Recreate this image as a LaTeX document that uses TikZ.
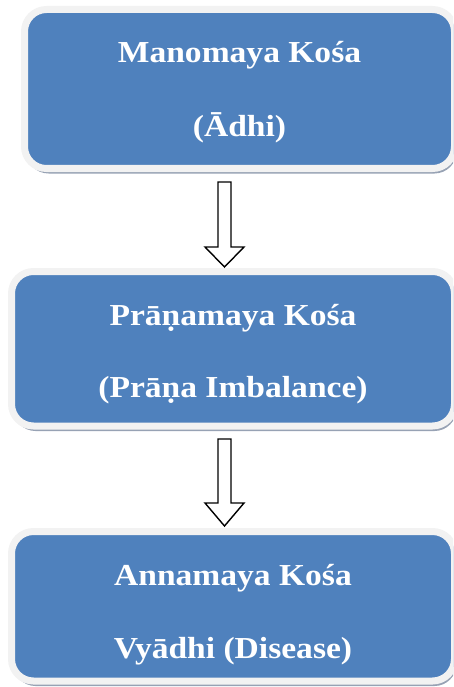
\documentclass[tikz,border=0pt]{standalone}
\usepackage{fontspec}
\setmainfont{Liberation Serif}[FakeStretch=1.1]
\usetikzlibrary{shadows,calc}
\definecolor{boxblue}{HTML}{4F81BD}
\definecolor{rimwhite}{HTML}{F2F2F2}
\definecolor{shadowgray}{HTML}{97A2B4}
\tikzset{
  kosabox/.style={draw=rimwhite, line width=7pt, fill=boxblue, rounded corners=22pt,
    inner sep=0pt, outer sep=0pt,
    drop shadow={shadow xshift=2pt, shadow yshift=-5pt, fill=shadowgray, opacity=1}},
  kosatext/.style={text=white, font=\bfseries\fontsize{30.5}{36}\selectfont, anchor=base, inner sep=0pt},
  blockarrow/.style={draw=black, fill=white, line width=1.4pt, line join=miter}
}
\begin{document}
\begin{tikzpicture}[x=1pt,y=-1pt]
\useasboundingbox (0,0) rectangle (453,687);
\begin{scope}
\clip (0,0) rectangle (453,687);
\node[kosabox, minimum width=430pt, minimum height=159pt] (b1) at (239.5,89) {};
\node[kosabox, minimum width=443pt, minimum height=154.5pt] (b2) at (233,348.75) {};
\node[kosabox, minimum width=443pt, minimum height=149.5pt] (b3) at (233,606.25) {};
\end{scope}

\node[kosatext] (t1a) at (239.5,63) {Manomaya Kośa};
\node[kosatext] (t1b) at (239.5,137) {(Ādhi)};
\node[kosatext] (t2a) at (233,325) {Prāṇamaya Kośa};
\node[kosatext] (t2b) at (233,397) {(Prāṇa Imbalance)};
\node[kosatext] (t3a) at (233,585) {Annamaya Kośa};
\node[kosatext] (t3b) at (233,658) {Vyādhi (Disease)};

\coordinate (a1s) at (224.5,182);
\coordinate (a1t) at (224.5,267);
\draw[blockarrow] ($(a1s)+(-6.5,0)$) -- ($(a1t)+(-6.5,-20)$) -- ($(a1t)+(-19.5,-20)$) -- (a1t)
  -- ($(a1t)+(19.5,-20)$) -- ($(a1t)+(6.5,-20)$) -- ($(a1s)+(6.5,0)$) -- cycle;
\coordinate (a2s) at (224.5,439);
\coordinate (a2t) at (224.5,526);
\draw[blockarrow] ($(a2s)+(-6.5,0)$) -- ($(a2t)+(-6.5,-23)$) -- ($(a2t)+(-19.5,-23)$) -- (a2t)
  -- ($(a2t)+(19.5,-23)$) -- ($(a2t)+(6.5,-23)$) -- ($(a2s)+(6.5,0)$) -- cycle;
\end{tikzpicture}
\end{document}
